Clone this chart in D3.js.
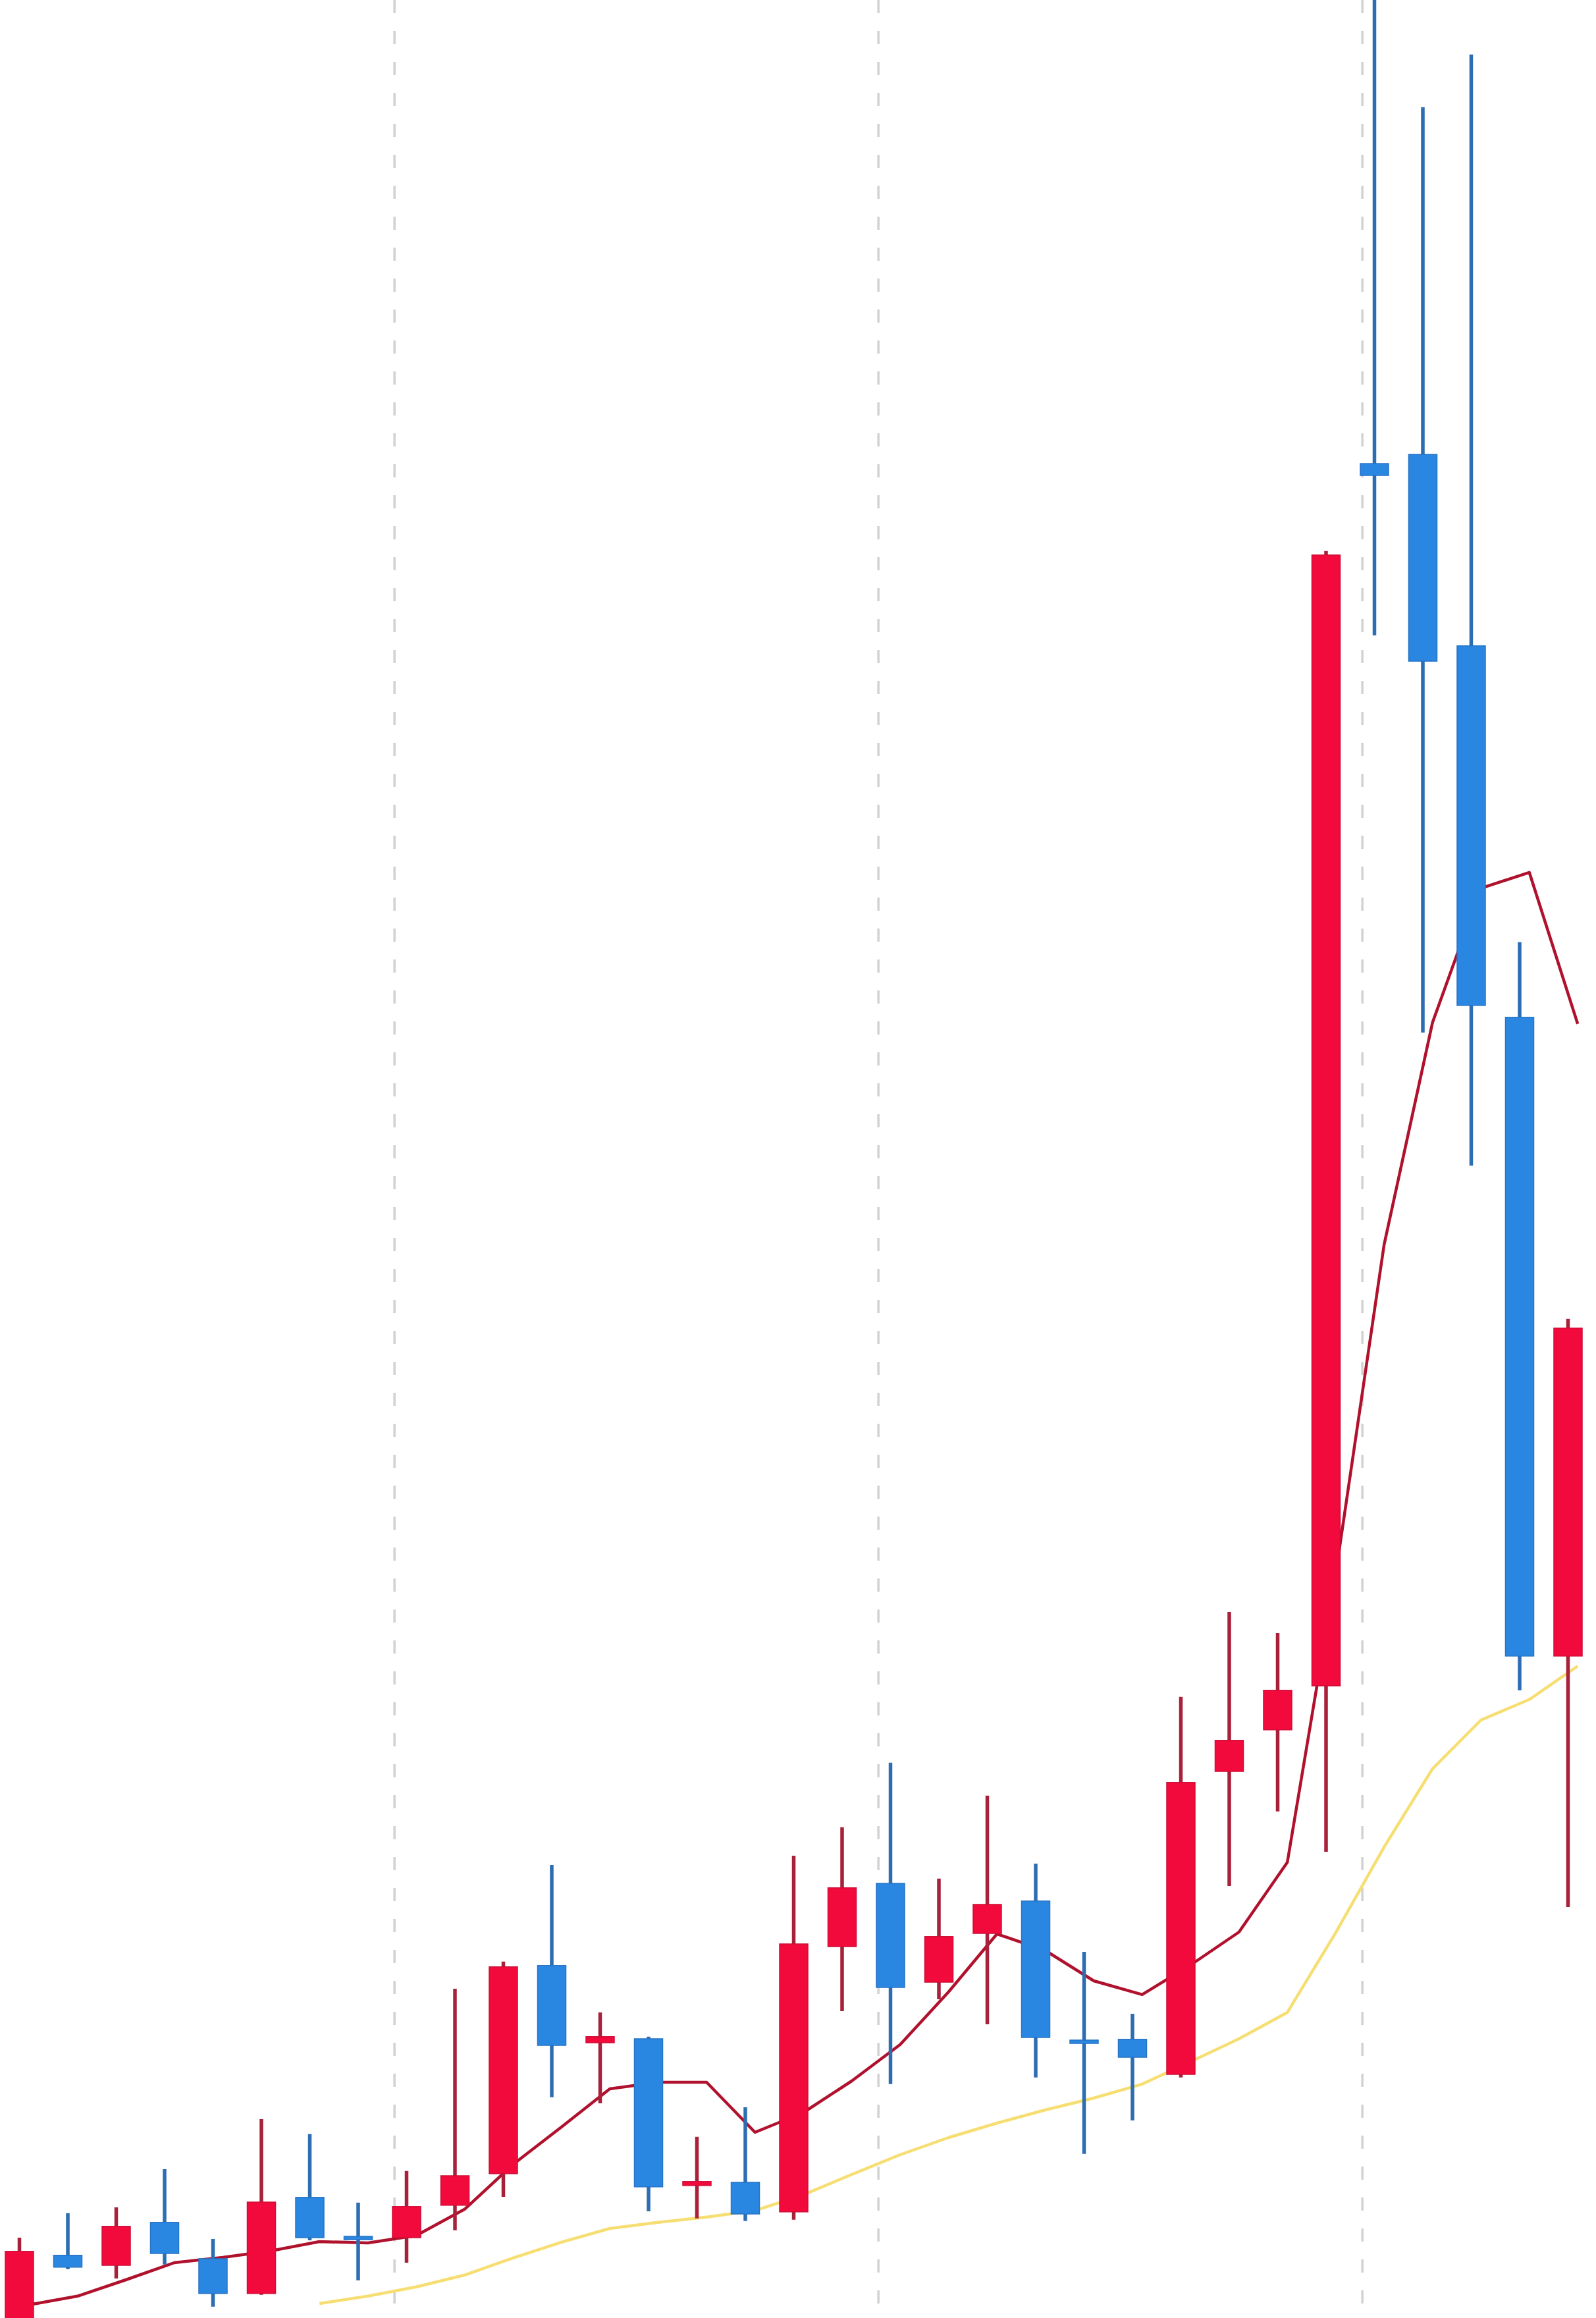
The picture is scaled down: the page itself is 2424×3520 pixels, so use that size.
<!DOCTYPE html>
<html>
<head>
<meta charset="utf-8">
<script src="https://cdn.jsdelivr.net/npm/d3@7"></script>
<style>
  html, body { margin: 0; padding: 0; background: #ffffff; }
  svg { display: block; }
</style>
</head>
<body>
<svg id="chart" width="2424" height="3520"></svg>
<script>
// ---- data (arbitrary price units) ----
const opens  = [9.50, 12.38, 12.00, 13.63, 12.25, 10.93, 14.58, 13.10, 13.05, 14.28,
                15.48, 23.38, 20.45, 20.60, 15.03, 15.15, 14.03, 24.10, 26.50, 22.75,
                24.60, 25.83, 20.55, 20.58, 19.25, 30.75, 32.33, 34.00, 80.40, 80.75,
                73.48, 59.38, 35.13];
const closes = [12.53, 11.93, 13.48, 12.45, 10.93, 14.40, 13.05, 12.98, 14.23, 15.40,
                23.33, 20.35, 20.68, 14.98, 15.18, 13.95, 24.20, 26.33, 22.55, 24.48,
                25.70, 20.65, 20.45, 19.90, 30.33, 31.93, 33.83, 76.93, 79.95, 72.90,
                59.83, 35.13, 47.58];
const highs  = [13.05, 13.98, 14.20, 15.65, 13.00, 17.55, 16.98, 14.38, 15.58, 22.50,
                23.53, 27.20, 21.60, 20.68, 16.88, 18.00, 27.55, 28.63, 31.08, 26.68,
                29.83, 27.25, 23.90, 21.55, 33.58, 36.80, 36.00, 77.08, 98.50, 93.93,
                95.93, 62.23, 47.93];
const lows   = [9.00, 11.85, 11.50, 12.03, 10.43, 10.88, 12.95, 11.43, 12.10, 13.33,
                14.60, 18.38, 18.15, 14.05, 13.78, 13.68, 13.73, 21.65, 18.88, 22.10,
                21.15, 19.13, 16.23, 17.50, 19.13, 26.40, 29.23, 27.70, 73.88, 58.80,
                53.75, 33.83, 25.60];
// short moving average (dark red line), one value per candle
const maShort = [10.50, 10.83, 11.45, 12.10, 12.30, 12.55, 12.90, 12.85, 13.13, 14.13,
                 15.83, 17.25, 18.70, 18.95, 18.95, 17.05, 17.80, 19.00, 20.38, 22.38,
                 24.58, 23.95, 22.80, 22.28, 23.40, 24.65, 27.30, 38.25, 50.75, 59.18,
                 64.28, 64.88, 59.13];
// long moving average (yellow line), starts at candle 6
const maLong = [null, null, null, null, null, null, 10.55, 10.83, 11.18, 11.63,
                12.28, 12.88, 13.40, 13.63, 13.83, 14.08, 14.68, 15.45, 16.20, 16.85,
                17.40, 17.90, 18.35, 18.88, 19.73, 20.60, 21.60, 24.63, 27.88, 30.85,
                32.70, 33.48, 34.75];
// vertical dashed separators (fractional candle positions)
const separators = [7.75, 17.75, 27.75];

// ---- layout ----
const W = 2424, H = 3520;
const n = opens.length;
const svg = d3.select("#chart");

const x = d3.scaleLinear().domain([0, n - 1]).range([29.5, 29.5 + 73.5 * (n - 1)]);
const step = x(1) - x(0);
const y = d3.scaleLinear().domain([10, 98]).range([H, 0]);

svg.append("defs").append("clipPath").attr("id", "plot")
  .append("rect").attr("x", 0).attr("y", 0).attr("width", W).attr("height", H);

const g = svg.append("g").attr("clip-path", "url(#plot)");

// separators
g.append("g").selectAll("line").data(separators).join("line")
  .attr("x1", d => x(d)).attr("x2", d => x(d))
  .attr("y1", 0).attr("y2", H)
  .attr("stroke", "#d2d2d2").attr("stroke-width", 3.5)
  .attr("stroke-dasharray", "20,27");

const lineOffset = 0.2; // lines are drawn slightly right of candle centres

const yellowLine = d3.line()
  .defined(d => d.v != null)
  .x(d => x(d.i + lineOffset)).y(d => y(d.v));
g.append("path")
  .datum(maLong.map((v, i) => ({i, v})))
  .attr("d", yellowLine)
  .attr("fill", "none").attr("stroke", "#f7de72").attr("stroke-width", 4.5)
  .attr("stroke-linejoin", "round");

const redLine = d3.line().x(d => x(d.i + lineOffset)).y(d => y(d.v));
g.append("path")
  .datum(maShort.map((v, i) => ({i, v})))
  .attr("d", redLine)
  .attr("fill", "none").attr("stroke", "#b0112d").attr("stroke-width", 4.5)
  .attr("stroke-linejoin", "round");

// candles
const candles = d3.range(n).map(i => ({
  i, o: opens[i], c: closes[i], h: highs[i], l: lows[i], up: closes[i] >= opens[i]
}));
const bodyW = step * 0.585;

const cg = g.append("g").selectAll("g").data(candles).join("g");
cg.append("line")
  .attr("x1", d => x(d.i)).attr("x2", d => x(d.i))
  .attr("y1", d => y(d.h)).attr("y2", d => y(d.l))
  .attr("stroke", d => d.up ? "#a8213a" : "#2d6db2")
  .attr("stroke-width", 5.5);
cg.append("rect")
  .attr("x", d => x(d.i) - bodyW / 2)
  .attr("width", bodyW)
  .attr("y", d => y(Math.max(d.o, d.c)))
  .attr("height", d => Math.max(5, Math.abs(y(d.o) - y(d.c))))
  .attr("fill", d => d.up ? "#f20a3d" : "#2a87e1")
  .attr("stroke", d => d.up ? "#cf0c35" : "#2673c6")
  .attr("stroke-width", 1.5);
</script>
</body>
</html>
